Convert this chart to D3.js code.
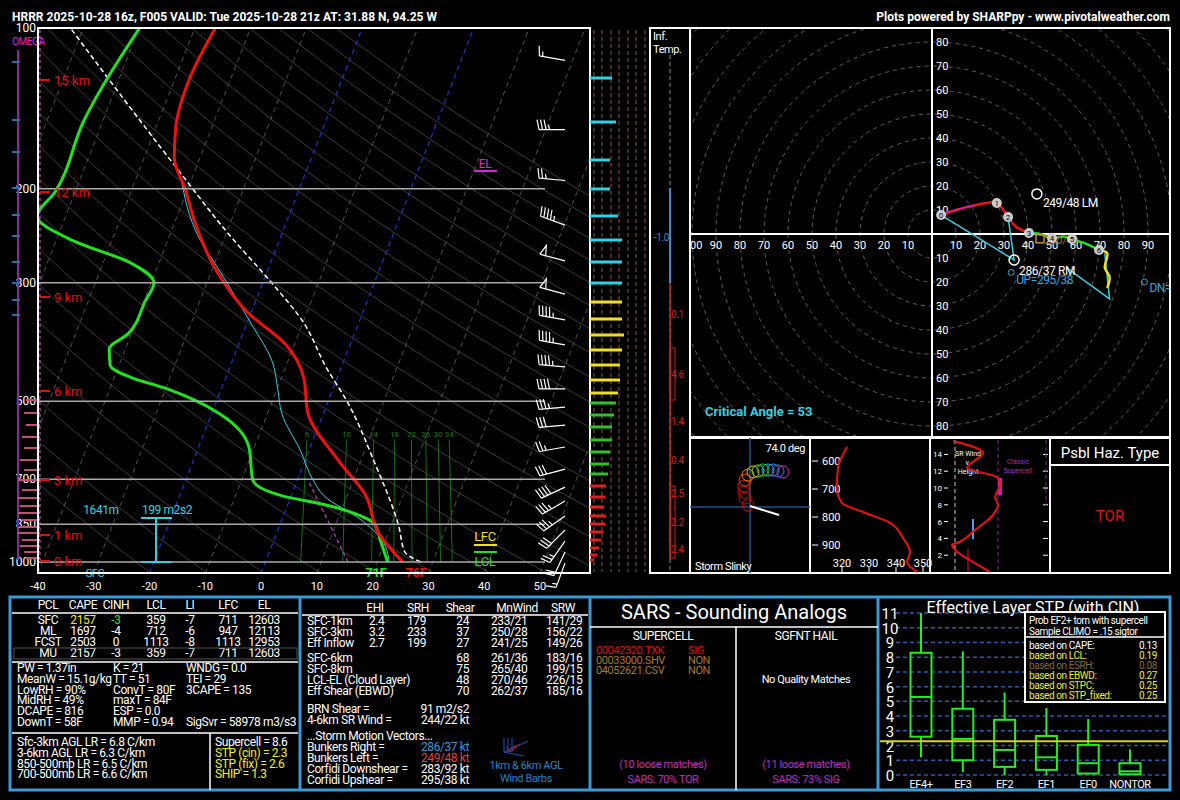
<!DOCTYPE html>
<html><head><meta charset="utf-8">
<script src="https://cdn.jsdelivr.net/npm/d3@7"></script>
<style>body{margin:0;background:#000}svg{display:block;font-family:Roboto,"DejaVu Sans",sans-serif}</style>
</head><body><svg id="c" width="1180" height="800"></svg>
<script>
// ---------- DATA ----------
const tempP = [1000,886,746,647,524,452,392,340,283,234,200,175,153,125,100];
const tempT = [24.6,18.4,13.1,6.1,-2.9,-6.0,-11.5,-20.8,-29.4,-36.0,-40.5,-44.6,-46.5,-47.4,-46.3];
const dwptP = [1000,914,845,820,782,752,702,609,528,497,474,452,428,399,374,325,300,275,251,225,203,149,100];
const dwptT = [21.9,19.2,16.7,13.9,6.9,-1.6,-8.0,-11.0,-18.5,-24.1,-29.7,-36.8,-41.6,-42.9,-40.6,-39.8,-39.5,-45.2,-56.6,-65.1,-63.6,-63.4,-59.9];
const wetbP = [1000,914,834,752,702,617,528,474,424,357,286,245,191];
const wetbT = [22.2,19.6,14.2,5.9,2.8,-1.6,-7.4,-9.9,-12.6,-19.3,-28.4,-34.9,-42.0];
const parcP = [1000,958,860,647,504,431,357,296,249,182,100];
const parcT = [27.9,24.3,21.5,12.4,3.7,-2.8,-9.8,-19.1,-28.3,-43.7,-72.3];
const dcapeP = [1000,702], dcapeT = [14.8,1.9];
const pressLabels = [100,200,300,500,700,850,1000];
const xTicks = [-40,-30,-20,-10,0,10,20,30,40,50];
const heightLabels = [["15 km",80],["12 km",192],["9 km",297],["6 km",391],["3 km",480],["1 km",535],["0 km",561]];
const mixRatios = [6,10,14,18,22,26,30,34];
const barbP = [115,155,193,234,273,315,352,392,431,474,513,554,609,670,724,769,820,871,914,958,1004];
const barbSpd = [15,35,25,45,50,50,45,45,45,40,35,30,25,30,40,35,35,30,25,20,15];
const barbDir = [280,270,275,290,285,285,280,280,275,270,265,265,260,255,245,240,235,225,215,205,200];
const colBarY = [78,122,160,189,216,240,262,283,302,319,335,350,365,380,393,403,415,427,440,452,464,474,486,497,507,516,524,532,540,548,555,560];
const colBarLen = [22,26,20,20,28,32,32,32,32,32,34,32,30,30,28,26,24,22,22,20,19,18,16,15,14,16,15,13,11,9,7,4];
const omegaY = [400,413,425,437,448,460,470,480,490,498,506,513,520,527,533,540,546,552,558];
const omegaLen = [10,12,10,14,12,16,12,18,14,18,16,18,14,16,18,14,16,12,10];
const infTempLabels = [["0.1",318],["4.6",378],["1.4",425],["0.4",464],["2.5",497],["2.2",526],["2.4",553]];
// hodograph (kt)
const hodoU = [3.8,10,18,27,31.7,35,40.4,45,50,55,58.3,64,69.6,73,72,74,73];
const hodoV = [7.9,10,12,12.9,7.1,3,0.4,0,-1.7,-1,-2.1,-4,-6.7,-8,-14,-18,-22.5];
const hodoKmIdx = [0,3,4,6,8,10,12];
const ringLabels = [10,20,30,40,50,60,70,80,90];
// theta-e panel
const thetaP = [550,625,696,750,782,821,875,925,961,996];
const thetaK = [321.9,318.5,318.1,320,327.8,337.8,342.6,345.2,344.1,347.8];
// SR wind vs height
const srH = [15.6,14.2,12.4,11.3,10.4,8.9,8.0,6.8,4.8,3.6,3.2,2.4,1.2,0];
const srS = [9.7,27.9,18.2,36.4,38.2,35.2,37,33.9,21.8,13.9,9.1,12.1,21.8,32.1];
// storm slinky (px offsets from panel centre)
const slinkyDX = [-2,-5,-6,-6,-5,-2,3,8,13,18,23,28,33];
const slinkyDY = [-2,-9,-15,-21,-27,-32,-35,-36,-37,-37,-37,-36,-35];
const slinkyCol = ["#d00","#d00","#d00","#e10","#e40","#e80","#cc0","#8d0","#2c2","#0cc","#39f","#66f","#c3c"];
// STP box plots
const stpCats = ["EF4+","EF3","EF2","EF1","EF0","NONTOR"];
const stpMin = [1.2,0.2,0,0,0.1,0];
const stpQ1 = [2.6,1.0,0.55,0.35,0.1,0.05];
const stpMed = [5.3,2.45,1.7,1.2,0.8,0.25];
const stpQ3 = [8.3,4.5,3.75,2.65,2.05,0.8];
const stpMax = [11,8.4,5.6,4.55,3.8,1.75];
const stpValue = 2.3;
const pclRows = [["SFC","2157","-3","359","-7","711","12603"],["ML","1697","-4","712","-6","947","12113"],["FCST","2503","0","1113","-8","1113","12953"],["MU","2157","-3","359","-7","711","12603"]];
const kinRows = [["SFC-1km","2.4","179","24","233/21","141/29"],["SFC-3km","3.2","233","37","250/28","156/22"],["Eff Inflow","2.7","199","27","241/25","149/26"],
 ["SFC-6km","","","68","261/36","183/16"],["SFC-8km","","","75","265/40","199/15"],["LCL-EL (Cloud Layer)","","","48","270/46","226/15"],["Eff Shear (EBWD)","","","70","262/37","185/16"]];
const thermo = [["PW = 1.37in","K = 21","WNDG = 0.0"],["MeanW = 15.1g/kg","TT = 51","TEI = 29"],["LowRH = 90%","ConvT = 80F","3CAPE = 135"],["MidRH = 49%","maxT = 84F",""],["DCAPE = 816","ESP = 0.0",""],["DownT = 58F","MMP = 0.94","SigSvr = 58978 m3/s3"]];

// ---------- DRAW ----------
const svg = d3.select("#c");
svg.append("rect").attr("width",1180).attr("height",800).attr("fill","#000");
const T = (g,x,y,s,o={}) => g.append("text").attr("x",x).attr("y",y).text(s)
  .attr("fill",o.c||"#fff").attr("font-size",o.f||12).attr("text-anchor",o.a||"start")
  .attr("font-weight",o.w||"normal").attr("letter-spacing",o.ls!=null?o.ls:-0.4);
T(svg,12,21,"HRRR 2025-10-28 16z, F005  VALID: Tue 2025-10-28 21z  AT: 31.88 N, 94.25 W",{w:"bold",f:12,ls:0});
T(svg,1170,21,"Plots powered by SHARPpy - www.pivotalweather.com",{a:"end",w:"bold",f:12,ls:0});

// skew-T scales
const X0=38,X1=590,Y0=28,YB=573,K=0.39;
const yP = d3.scaleLog().domain([100,1000]).range([28,562]);
const tX = d3.scaleLinear().domain([-40,50]).range([38,540]);
const xT = (t,p) => tX(t) + K*(YB - yP(p));
const defs = svg.append("defs");
defs.append("clipPath").attr("id","sk").append("rect").attr("x",X0).attr("y",Y0).attr("width",X1-X0).attr("height",YB-Y0);
defs.append("clipPath").attr("id","hd").append("rect").attr("x",690).attr("y",28).attr("width",480).attr("height",409);
const sk = svg.append("g").attr("clip-path","url(#sk)");
const line = d3.line().x(d=>xT(d[1],d[0])).y(d=>yP(d[0]));
const pRange = d3.range(1050,99,-25);
for(let th=250;th<=480;th+=10){
  sk.append("path").datum(pRange.map(p=>[p,th*Math.pow(p/1000,0.286)-273.15])).attr("d",line)
   .attr("fill","none").attr("stroke","#4a4a4a").attr("stroke-width",0.8);
}
for(let t=-160;t<=50;t+=10){
  const blue = t===0||t===-20;
  sk.append("path").datum([[1050,t],[100,t]]).attr("d",line).attr("fill","none")
   .attr("stroke",blue?"#2233cc":"#666").attr("stroke-dasharray","5,4").attr("stroke-width",blue?1.2:0.8);
}
mixRatios.forEach(w=>{
  const pts=[1000,590].map(p=>{const e=w*p/(622+w);const l=Math.log(e/6.112);return [p,243.5*l/(17.67-l)];});
  sk.append("path").datum(pts).attr("d",line).attr("stroke","#1f8a1f").attr("stroke-width",0.8).attr("fill","none");
  T(sk,xT(pts[1][1],590),yP(590)-3,String(w),{c:"#1a7a1a",f:8,a:"middle",ls:0});
});
pressLabels.forEach(p=>{
  if(p!==100) svg.append("line").attr("x1",X0).attr("x2",X1-45).attr("y1",yP(p)).attr("y2",yP(p)).attr("stroke","#aaa").attr("stroke-width",1.5);
  T(svg,36,yP(p)+4,String(p),{a:"end",f:12,ls:0});
});
svg.append("line").attr("x1",18).attr("x2",18).attr("y1",50).attr("y2",560).attr("stroke","#8a2a9a").attr("stroke-width",2);
svg.append("line").attr("x1",40).attr("x2",40).attr("y1",30).attr("y2",560).attr("stroke","#d070d0").attr("stroke-dasharray","3,3");
T(svg,12,45,"OMEGA",{c:"#e020e0",f:10});
omegaY.forEach((y,i)=>svg.append("line").attr("x1",40-omegaLen[i]-4).attr("x2",40).attr("y1",y).attr("y2",y).attr("stroke","#c05070").attr("stroke-width",2));
[62,120,152,188,215,236,262,283,300,315].forEach(y=>svg.append("line").attr("x1",12).attr("x2",20).attr("y1",y).attr("y2",y).attr("stroke","#2b6fb0").attr("stroke-width",2));
const tr=(P,Tt,c,w,dash)=>sk.append("path").datum(P.map((p,i)=>[p,Tt[i]])).attr("d",line.curve(d3.curveMonotoneY)).attr("fill","none").attr("stroke",c).attr("stroke-width",w).attr("stroke-dasharray",dash||null);
tr(parcP,parcT,"#fff",1.5,"5,3");
tr(dcapeP,dcapeT,"#c040c0",1.2,"4,3");
tr(wetbP,wetbT,"#2ad4e0",1);
tr(dwptP,dwptT,"#22e022",3);
tr(tempP,tempT,"#ee1111",3);
heightLabels.forEach(([s,y])=>{svg.append("line").attr("x1",40).attr("x2",50).attr("y1",y).attr("y2",y).attr("stroke","#e01010").attr("stroke-width",2);T(svg,54,y+5,s,{c:"#e01010",f:13,ls:0});});
xTicks.forEach(t=>T(svg,tX(t),590,String(t),{a:"middle",f:11,ls:0}));
T(svg,376,577,"71F",{c:"#22e022",f:13,a:"middle",w:"bold"});
T(svg,416,577,"76F",{c:"#ee1111",f:13,a:"middle",w:"bold"});
T(svg,95,577,"SFC",{c:"#2ad4e0",f:11,a:"middle"});
T(svg,101,514,"1641m",{c:"#2ad4e0",f:12,a:"middle"});
T(svg,167,514,"199 m2s2",{c:"#2ad4e0",f:12,a:"middle"});
svg.append("path").attr("d","M141,518H172M156,518V562M141,562H172").attr("stroke","#2ad4e0").attr("stroke-width",2).attr("fill","none");
svg.append("line").attr("x1",474).attr("x2",497).attr("y1",171).attr("y2",171).attr("stroke","#e020e0").attr("stroke-width",2);
T(svg,485,168,"EL",{c:"#e020e0",f:12,a:"middle"});
svg.append("line").attr("x1",474).attr("x2",497).attr("y1",545).attr("y2",545).attr("stroke","#f0e020").attr("stroke-width",2);
T(svg,485,541,"LFC",{c:"#f0e020",f:13,a:"middle"});
svg.append("line").attr("x1",474).attr("x2",497).attr("y1",552).attr("y2",552).attr("stroke","#22e022").attr("stroke-width",2);
T(svg,485,566,"LCL",{c:"#22e022",f:13,a:"middle"});
barbP.forEach((p,i)=>{
  const x=565,y=yP(p),d=barbDir[i]*Math.PI/180,L=26;
  const ux=Math.sin(d),uy=-Math.cos(d),px=-uy,py=ux;
  let path=`M${x},${y}L${x+ux*L},${y+uy*L}`;
  let s=Math.round(barbSpd[i]/5)*5,pos=L;
  while(s>=50){path+=`M${x+ux*pos},${y+uy*pos}L${x+ux*(pos-4)+px*10},${y+uy*(pos-4)+py*10}L${x+ux*(pos-6)},${y+uy*(pos-6)}`;pos-=7;s-=50;}
  while(s>=10){path+=`M${x+ux*pos},${y+uy*pos}L${x+ux*(pos+2)+px*10},${y+uy*(pos+2)+py*10}`;pos-=3.5;s-=10;}
  if(s>=5){if(pos===L)pos-=3.5;path+=`M${x+ux*pos},${y+uy*pos}L${x+ux*(pos+1)+px*5},${y+uy*(pos+1)+py*5}`;}
  svg.append("path").attr("d",path).attr("stroke","#fff").attr("stroke-width",1.2).attr("fill","none");
});
svg.append("rect").attr("x",X0).attr("y",Y0).attr("width",X1-X0).attr("height",YB-Y0).attr("fill","none").attr("stroke","#fff").attr("stroke-width",2);
[594,602,611,619,628,636,645].forEach(x=>svg.append("line").attr("x1",x).attr("x2",x).attr("y1",30).attr("y2",572).attr("stroke","#8a5a3a").attr("stroke-dasharray","4,3"));
colBarY.forEach((y,i)=>{const c=y<290?"#30d0e8":y<398?"#f0e020":y<480?"#30c030":"#e02020";
  svg.append("line").attr("x1",590).attr("x2",590+colBarLen[i]).attr("y1",y).attr("y2",y).attr("stroke",c).attr("stroke-width",3);});
svg.append("rect").attr("x",650).attr("y",28).attr("width",40).attr("height",545).attr("fill","none").attr("stroke","#fff").attr("stroke-width",2);
T(svg,653,40,"Inf.",{f:11});T(svg,653,53,"Temp.",{f:11});
svg.append("line").attr("x1",670).attr("x2",670).attr("y1",55).attr("y2",572).attr("stroke","#888").attr("stroke-dasharray","4,3");
svg.append("line").attr("x1",670).attr("x2",670).attr("y1",188).attr("y2",283).attr("stroke","#3a8ad0").attr("stroke-width",2);
T(svg,654,241,"-1.0",{c:"#3a8ad0",f:10});
svg.append("line").attr("x1",670).attr("x2",670).attr("y1",283).attr("y2",560).attr("stroke","#d02020").attr("stroke-width",1.5);
svg.append("rect").attr("x",670).attr("y",348).attr("width",5).attr("height",52).attr("fill","none").attr("stroke","#d02020");
svg.append("rect").attr("x",670).attr("y",486).attr("width",5).attr("height",72).attr("fill","none").attr("stroke","#d02020");
infTempLabels.forEach(([s,y])=>T(svg,671,y,s,{c:"#d02020",f:10}));

// ---------- HODOGRAPH ----------
const HC=[932,234],HS=2.4;
const hx=u=>HC[0]+u*HS, hy=v=>HC[1]-v*HS;
const hd=svg.append("g").attr("clip-path","url(#hd)");
for(let r=10;r<=140;r+=10) hd.append("circle").attr("cx",HC[0]).attr("cy",HC[1]).attr("r",r*HS).attr("fill","none").attr("stroke","#777").attr("stroke-dasharray","4,4").attr("stroke-width",0.8);
hd.append("line").attr("x1",690).attr("x2",1170).attr("y1",HC[1]).attr("y2",HC[1]).attr("stroke","#fff").attr("stroke-width",2);
hd.append("line").attr("x1",HC[0]).attr("x2",HC[0]).attr("y1",28).attr("y2",437).attr("stroke","#fff").attr("stroke-width",2);
ringLabels.forEach(r=>{
  T(hd,hx(-r),HC[1]+15,String(r),{a:"middle",f:11,ls:0});T(hd,hx(r),HC[1]+15,String(r),{a:"middle",f:11,ls:0});
  if(r<=80){T(hd,HC[0]+4,hy(r)+4,String(r),{f:11,ls:0});T(hd,HC[0]+4,hy(-r)+4,String(r),{f:11,ls:0});}
});
T(hd,690,HC[1]+15,"00",{f:11,ls:0});
const hl=d3.line().x(d=>hx(d[0])).y(d=>hy(d[1])).curve(d3.curveCatmullRom);
const hp=hodoU.map((u,i)=>[u,hodoV[i]]);
const RM=[34.2,-10.8],LM=[43.7,16.7],UPv=[33,-16],DNv=[88.5,-20];
hd.append("path").attr("d",`M${hx(hp[0][0])},${hy(hp[0][1])}L${hx(RM[0])},${hy(RM[1])}L${hx(hp[4][0])},${hy(hp[4][1])}`).attr("stroke","#30d0e0").attr("fill","none").attr("stroke-width",1.5);
hd.append("path").attr("d",`M${hx(56)},${hy(-14)}L${hx(74)},${hy(-27)}L${hx(72)},${hy(-8)}`).attr("stroke","#30d0e0").attr("fill","none").attr("stroke-width",1.5);
hd.append("path").datum(hp.slice(0,7)).attr("d",hl).attr("stroke","#ee1111").attr("stroke-width",2.5).attr("fill","none");
hd.append("path").datum(hp.slice(0,3)).attr("d",hl).attr("stroke","#d020d0").attr("stroke-width",1.2).attr("fill","none");
hd.append("path").datum(hp.slice(6,13)).attr("d",hl).attr("stroke","#22e022").attr("stroke-width",2.5).attr("fill","none");
hd.append("path").datum(hp.slice(12)).attr("d",hl).attr("stroke","#f0e020").attr("stroke-width",2.5).attr("fill","none");
hd.append("rect").attr("x",hx(45)-4).attr("y",hy(-2)-4).attr("width",8).attr("height",8).attr("fill","none").attr("stroke","#c09020").attr("stroke-width",1.5);
T(hd,hx(47),hy(-2)+5,"260/40",{c:"#a07820",f:11});
hodoKmIdx.forEach((k,i)=>{hd.append("circle").attr("cx",hx(hp[k][0])).attr("cy",hy(hp[k][1])).attr("r",5).attr("fill","#ccc");T(hd,hx(hp[k][0]),hy(hp[k][1])+3,String(i),{c:"#000",f:8,a:"middle",ls:0});});
hd.append("circle").attr("cx",hx(LM[0])).attr("cy",hy(LM[1])).attr("r",5).attr("fill","none").attr("stroke","#fff").attr("stroke-width",1.5);
T(hd,hx(LM[0])+6,hy(LM[1])+13,"249/48 LM",{f:12});
hd.append("circle").attr("cx",hx(RM[0])).attr("cy",hy(RM[1])).attr("r",5).attr("fill","none").attr("stroke","#fff").attr("stroke-width",1.5);
T(hd,hx(RM[0])+5,hy(RM[1])+15,"286/37 RM",{f:12});
hd.append("circle").attr("cx",hx(UPv[0])).attr("cy",hy(UPv[1])).attr("r",3).attr("fill","none").attr("stroke","#30a8e0");
T(hd,hx(UPv[0])+5,hy(UPv[1])+12,"UP=295/38",{c:"#30a8e0",f:12});
hd.append("circle").attr("cx",hx(DNv[0])).attr("cy",hy(DNv[1])).attr("r",3).attr("fill","none").attr("stroke","#30a8e0");
T(hd,hx(DNv[0])+5,hy(DNv[1])+10,"DN=",{c:"#30a8e0",f:12});
T(svg,705,416,"Critical Angle = 53",{c:"#30d0e0",f:13,w:"bold",ls:0});
svg.append("rect").attr("x",690).attr("y",28).attr("width",480).attr("height",409).attr("fill","none").attr("stroke","#fff").attr("stroke-width",2);

// ---------- SMALL PANELS ----------
[[690,120],[810,120],[930,120],[1050,120]].forEach(([x,w])=>svg.append("rect").attr("x",x).attr("y",438).attr("width",w).attr("height",135).attr("fill","none").attr("stroke","#fff").attr("stroke-width",2));
svg.append("line").attr("x1",690).attr("x2",810).attr("y1",507).attr("y2",507).attr("stroke","#1f4f8f").attr("stroke-width",1.5);
svg.append("line").attr("x1",750).attr("x2",750).attr("y1",438).attr("y2",573).attr("stroke","#1f4f8f").attr("stroke-width",1.5);
slinkyDX.forEach((dx,i)=>svg.append("circle").attr("cx",750+dx).attr("cy",507+slinkyDY[i]).attr("r",6).attr("fill","none").attr("stroke",slinkyCol[i]));
svg.append("line").attr("x1",750).attr("x2",779).attr("y1",506).attr("y2",515).attr("stroke","#fff").attr("stroke-width",2);
T(svg,805,452,"74.0 deg",{a:"end",f:11});T(svg,695,570,"Storm Slinky",{f:11});
const thx=d3.scaleLinear().domain([320,350]).range([842,923]);
const thy=d3.scaleLinear().domain([600,900]).range([461,545]);
[600,700,800,900].forEach(p=>{svg.append("line").attr("x1",812).attr("x2",818).attr("y1",thy(p)).attr("y2",thy(p)).attr("stroke","#fff");T(svg,822,thy(p)+4,String(p),{f:11,ls:0});});
[320,330,340,350].forEach(t=>{svg.append("line").attr("x1",thx(t)).attr("x2",thx(t)).attr("y1",567).attr("y2",573).attr("stroke","#fff");T(svg,thx(t),567,String(t),{f:11,a:"middle",ls:0});});
svg.append("path").datum(thetaP.map((p,i)=>[thetaK[i],p])).attr("d",d3.line().x(d=>thx(d[0])).y(d=>thy(d[1])).curve(d3.curveMonotoneY)).attr("stroke","#ee1111").attr("stroke-width",2).attr("fill","none");
const srx=d3.scaleLinear().domain([0,40]).range([937,1003]);
const sry=d3.scaleLinear().domain([0,15]).range([572,446]);
[2,4,6,8,10,12,14].forEach(h=>{T(svg,942,sry(h)+3,String(h),{f:8,a:"end",ls:0});svg.append("line").attr("x1",944).attr("x2",948).attr("y1",sry(h)).attr("y2",sry(h)).attr("stroke","#fff");svg.append("line").attr("x1",1043).attr("x2",1048).attr("y1",sry(h)).attr("y2",sry(h)).attr("stroke","#fff");});
svg.append("line").attr("x1",955).attr("x2",955).attr("y1",440).attr("y2",572).attr("stroke","#ccc").attr("stroke-dasharray","4,3");
svg.append("line").attr("x1",998).attr("x2",998).attr("y1",440).attr("y2",572).attr("stroke","#802a90").attr("stroke-dasharray","4,3");
svg.append("line").attr("x1",1046).attr("x2",1046).attr("y1",440).attr("y2",505).attr("stroke","#802a90").attr("stroke-dasharray","4,3");
T(svg,968,456,"SR Wind",{f:7,a:"middle",ls:0});T(svg,968,465,"v.",{f:7,a:"middle",ls:0});T(svg,968,474,"Height",{f:7,a:"middle",ls:0});
T(svg,1018,464,"Classic",{c:"#a030b0",f:7,a:"middle",ls:0});T(svg,1018,473,"Supercell",{c:"#a030b0",f:7,a:"middle",ls:0});
svg.append("line").attr("x1",1000).attr("x2",1000).attr("y1",478).attr("y2",495).attr("stroke","#c020c0").attr("stroke-width",4);
svg.append("line").attr("x1",973).attr("x2",973).attr("y1",519).attr("y2",539).attr("stroke","#5a9ae8").attr("stroke-width",2);
svg.append("line").attr("x1",968).attr("x2",968).attr("y1",549).attr("y2",572).attr("stroke","#701010").attr("stroke-width",2);
svg.append("path").datum(srH.map((h,i)=>[srS[i],h])).attr("d",d3.line().x(d=>srx(d[0])).y(d=>sry(d[1])).curve(d3.curveMonotoneY)).attr("stroke","#ee1111").attr("stroke-width",2).attr("fill","none");
T(svg,1110,458,"Psbl Haz. Type",{a:"middle",f:15,ls:0});
svg.append("line").attr("x1",1050).attr("x2",1170).attr("y1",465).attr("y2",465).attr("stroke","#fff").attr("stroke-width",2);
T(svg,1110,521,"TOR",{a:"middle",f:15,c:"#e01010",ls:0});

// ---------- BOTTOM PANELS ----------
const B="#3a9ad8";
svg.append("rect").attr("x",10).attr("y",597).attr("width",1160).attr("height",193).attr("fill","none").attr("stroke",B).attr("stroke-width",3);
[300,590,878].forEach(x=>svg.append("line").attr("x1",x).attr("x2",x).attr("y1",597).attr("y2",790).attr("stroke",B).attr("stroke-width",3));
const W=(x1,y1,x2,y2,c)=>svg.append("line").attr("x1",x1).attr("x2",x2).attr("y1",y1).attr("y2",y2).attr("stroke",c||"#fff").attr("stroke-width",1.5);
const pclX=[48,83,116,156,190,228,264];
["PCL","CAPE","CINH","LCL","LI","LFC","EL"].forEach((s,i)=>T(svg,pclX[i],609,s,{a:"middle"}));
W(12,613,298,613);
pclRows.forEach((r,j)=>r.forEach((s,i)=>T(svg,pclX[i],624+j*11,s,{a:"middle",c:(j===0&&i===1)?"#f0f020":(j===0&&i===2)?"#22e022":"#fff"})));
svg.append("rect").attr("x",14).attr("y",648).attr("width",283).attr("height",11).attr("fill","none").attr("stroke","#555");
W(12,662,298,662);
thermo.forEach((r,j)=>r.forEach((s,i)=>T(svg,[17,113,186][i],672+j*10.8,s)));
W(12,733,298,733);W(210,733,210,790);
["Sfc-3km AGL LR = 6.8 C/km","3-6km AGL LR = 6.3 C/km","850-500mb LR = 6.5 C/km","700-500mb LR = 6.6 C/km"].forEach((s,j)=>T(svg,17,746+j*10.8,s));
[["Supercell = 8.6","#fff"],["STP (cin) = 2.3","#f0f020"],["STP (fix) = 2.6","#f0f020"],["SHIP = 1.3","#f0f020"]].forEach(([s,c],j)=>T(svg,215,746+j*10.8,s,{c}));
[["EHI",375],["SRH",418],["Shear",460],["MnWind",517],["SRW",563]].forEach(([s,x])=>T(svg,x,612,s,{a:"middle"}));
W(302,615,588,615);
kinRows.forEach((r,j)=>{const y=j<3?625+j*11:662+(j-3)*11;
  T(svg,307,y,r[0]);T(svg,369,y,r[1]);T(svg,407,y,r[2]);T(svg,469,y,r[3],{a:"end"});T(svg,491,y,r[4]);T(svg,546,y,r[5]);});
T(svg,307,713,"BRN Shear =");T(svg,469,713,"91 m2/s2",{a:"end"});
T(svg,307,724,"4-6km SR Wind =");T(svg,469,724,"244/22 kt",{a:"end"});
T(svg,307,740,"...Storm Motion Vectors...");
[["Bunkers Right =","286/37 kt","#3a9ad8"],["Bunkers Left =","249/48 kt","#e04040"],["Corfidi Downshear =","283/92 kt","#fff"],["Corfidi Upshear =","295/38 kt","#fff"]].forEach(([a,b,c],j)=>{T(svg,307,751+j*11,a);T(svg,469,751+j*11,b,{a:"end",c});});
svg.append("path").attr("d","M504,738V752M508,738V752M512,738V752M504,752L528,741M504,752L524,756M506,747L510,752").attr("stroke","#2050c0").attr("fill","none");
svg.append("path").attr("d","M506,752L516,745M510,752L520,744").attr("stroke","#c02020").attr("fill","none");
T(svg,526,769,"1km & 6km AGL",{a:"middle",c:"#2a80c8",f:11});T(svg,526,782,"Wind Barbs",{a:"middle",c:"#2a80c8",f:11});
T(svg,734,619,"SARS - Sounding Analogs",{a:"middle",f:20,ls:0});
W(590,627,878,627);W(736,627,736,790);
T(svg,663,640,"SUPERCELL",{a:"middle"});T(svg,806,640,"SGFNT HAIL",{a:"middle"});
[["00042320.TXK","SIG","#e01010"],["00033000.SHV","NON","#a87a2a"],["04052621.CSV","NON","#a87a2a"]].forEach(([a,b,c],j)=>{T(svg,596,654+j*10,a,{c,f:11});T(svg,688,654+j*10,b,{c,f:11});});
T(svg,806,683,"No Quality Matches",{a:"middle",f:11});
T(svg,663,768,"(10 loose matches)",{a:"middle",c:"#c030c0",f:11});T(svg,663,783,"SARS: 70% TOR",{a:"middle",c:"#c030c0",f:11});
T(svg,806,768,"(11 loose matches)",{a:"middle",c:"#c030c0",f:11});T(svg,806,783,"SARS: 73% SIG",{a:"middle",c:"#c030c0",f:11});
const sy=d3.scaleLinear().domain([0,11]).range([775,613]);
const sx=d3.scalePoint().domain(stpCats).range([921,1130]);
d3.range(0,12).forEach(v=>{svg.append("line").attr("x1",896).attr("x2",1168).attr("y1",sy(v)).attr("y2",sy(v)).attr("stroke","#2a5aa8").attr("stroke-dasharray","4,3").attr("stroke-width",1.5);T(svg,890,sy(v)+6,String(v),{f:15,a:"middle",ls:0});});
stpCats.forEach((c,i)=>{const x=sx(c),g="#22ee22";
  svg.append("line").attr("x1",x).attr("x2",x).attr("y1",sy(stpMax[i])).attr("y2",sy(stpQ3[i])).attr("stroke",g).attr("stroke-width",2);
  svg.append("line").attr("x1",x).attr("x2",x).attr("y1",sy(stpQ1[i])).attr("y2",sy(stpMin[i])).attr("stroke",g).attr("stroke-width",2);
  svg.append("rect").attr("x",x-10.5).attr("y",sy(stpQ3[i])).attr("width",21).attr("height",sy(stpQ1[i])-sy(stpQ3[i])).attr("fill","none").attr("stroke",g).attr("stroke-width",2);
  svg.append("line").attr("x1",x-10.5).attr("x2",x+10.5).attr("y1",sy(stpMed[i])).attr("y2",sy(stpMed[i])).attr("stroke",g).attr("stroke-width",2);
  T(svg,x,788,c,{a:"middle",f:11});});
svg.append("line").attr("x1",880).attr("x2",1168).attr("y1",sy(stpValue)).attr("y2",sy(stpValue)).attr("stroke","#d8d020").attr("stroke-width",2);
T(svg,1033,613,"Effective Layer STP (with CIN)",{a:"middle",f:16,ls:0});
svg.append("rect").attr("x",1025).attr("y",612).attr("width",140).attr("height",90).attr("fill","#000").attr("stroke","#fff").attr("stroke-width",2);
W(1025,637,1165,637);
T(svg,1029,624,"Prob EF2+ torn with supercell",{f:10});T(svg,1029,635,"Sample CLIMO = .15 sigtor",{f:10});
[["based on CAPE:","0.13","#fff"],["based on LCL:","0.19","#f0f020"],["based on ESRH:","0.08","#8a6a2a"],["based on EBWD:","0.27","#f0f020"],["based on STPC:","0.25","#f0f020"],["based on STP_fixed:","0.25","#f0f020"]].forEach(([a,b,c],j)=>{T(svg,1029,649+j*10,a,{c,f:10});T(svg,1157,649+j*10,b,{c,f:10,a:"end"});});
</script></body></html>
